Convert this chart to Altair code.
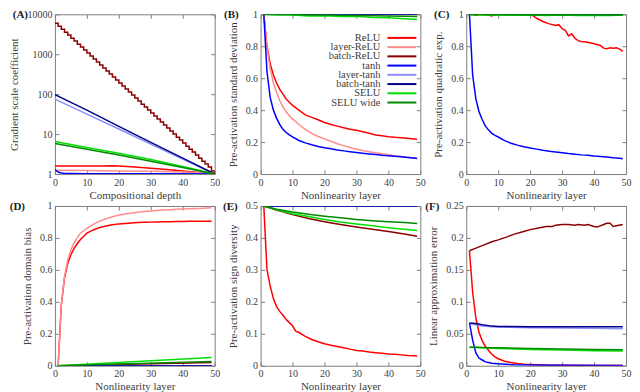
import altair as alt
import pandas as pd

FONT = "Liberation Serif, Times New Roman, Times, DejaVu Serif, serif"
TXT = "#404040"
FRAME = "#808080"

NAMES = ["ReLU", "layer-ReLU", "batch-ReLU", "tanh", "layer-tanh", "batch-tanh", "SELU", "SELU wide"]
COLORS = ["#ff0000", "#ff8c8c", "#8b0000", "#0000ff", "#8c8cff", "#00008b", "#00e000", "#008a00"]
X_TICKS = [0, 10, 20, 30, 40, 50]

# ---------------- Panel A (log y) ----------------
A_X_STEP = list(range(51))
A_batch_relu = [6000, 5050, 4250, 3570, 3010, 2530, 2130, 1790, 1510, 1270,
                1070, 900, 755, 635, 535, 450, 380, 320, 268, 226,
                190, 160, 135, 113, 95, 80, 67, 56, 47.5, 40,
                33.6, 28.3, 23.8, 20, 16.8, 14.2, 11.9, 10, 8.4, 7.1,
                6.0, 5.0, 4.2, 3.55, 3.0, 2.5, 2.1, 1.78, 1.5, 1.19, 1.0]
A_X6 = [0, 10, 20, 30, 40, 50]
A_batch_tanh = [97, 40, 15.6, 6.2, 2.5, 1]
A_layer_tanh = [75, 31.6, 13.4, 5.6, 2.37, 1]
A_selu = [6.5, 4.6, 3.3, 2.3, 1.55, 1]
A_selu_wide = [5.8, 4.2, 3.0, 2.1, 1.45, 1]
A_X_RELU = [0, 5, 10, 15, 18, 20, 25, 30, 35, 40, 45, 50]
A_relu = [1.58, 1.58, 1.58, 1.6, 1.62, 1.6, 1.5, 1.4, 1.3, 1.2, 1.1, 1.0]
A_X_LRELU = [0, 10, 20, 30, 35, 40, 45, 50]
A_layer_relu = [1.25, 1.23, 1.2, 1.17, 1.15, 1.12, 1.07, 1.0]
A_X_TANH = [0, 1, 2, 3, 5, 10, 20, 30, 40, 50]
A_tanh = [1.3, 1.12, 1.06, 1.04, 1.03, 1.02, 1.02, 1.02, 1.01, 1.0]

# common layer grid for B-F
XL = [1, 2, 3, 4, 5, 6, 7, 8, 9, 10, 12, 14, 16, 18, 20, 22, 24, 26, 28, 30,
      32, 34, 36, 38, 40, 42, 44, 46, 48, 49]
X2 = [1, 49]
X11 = [1, 5, 10, 15, 20, 25, 30, 35, 40, 45, 49]

# ---------------- Panel B ----------------
B_relu = [1.0, 0.80, 0.69, 0.62, 0.57, 0.53, 0.50, 0.47, 0.45, 0.43, 0.40, 0.37, 0.355, 0.34, 0.323,
          0.31, 0.30, 0.29, 0.28, 0.274, 0.265, 0.255, 0.245, 0.24, 0.234, 0.23, 0.227, 0.224, 0.22, 0.218]
B_layer_relu = [1.0, 0.79, 0.66, 0.57, 0.51, 0.46, 0.42, 0.39, 0.365, 0.345, 0.31, 0.28, 0.255, 0.235, 0.22,
                0.205, 0.19, 0.178, 0.166, 0.155, 0.147, 0.14, 0.133, 0.127, 0.121, 0.115, 0.11, 0.105, 0.1, 0.098]
B_tanh = [1.0, 0.64, 0.48, 0.40, 0.35, 0.31, 0.28, 0.26, 0.245, 0.232, 0.21, 0.195, 0.183, 0.173, 0.165,
          0.158, 0.151, 0.145, 0.14, 0.135, 0.13, 0.126, 0.122, 0.118, 0.115, 0.111, 0.108, 0.104, 0.1, 0.097]
B_ones = [1.0, 1.0]
B_selu = [1.0, 0.997, 0.996, 0.99, 0.991, 0.986, 0.987, 0.98, 0.979, 0.972, 0.968]
B_selu_wide = [1.0, 0.999, 0.998, 0.996, 0.995, 0.994, 0.993, 0.991, 0.99, 0.988, 0.986]

# ---------------- Panel C ----------------
C_tanh = [1.0, 0.62, 0.47, 0.39, 0.34, 0.30, 0.275, 0.255, 0.242, 0.232, 0.209, 0.193, 0.181, 0.171, 0.163,
          0.156, 0.149, 0.143, 0.138, 0.133, 0.128, 0.124, 0.12, 0.117, 0.113, 0.11, 0.106, 0.102, 0.099, 0.096]
C_X_RELU = [1, 2, 3, 4, 6, 8, 9, 12, 16, 20, 21, 22, 24, 26, 28, 29, 30, 31, 32, 33,
            34, 35, 36, 38, 40, 42, 43, 44, 45, 46, 47, 48, 49]
C_relu = [1.0, 1.0, 0.993, 1.0, 1.0, 0.99, 1.0, 1.0, 1.0, 1.0, 0.99, 0.975, 0.955, 0.94, 0.93, 0.935, 0.91,
          0.90, 0.865, 0.878, 0.85, 0.835, 0.83, 0.825, 0.815, 0.805, 0.788, 0.785, 0.79, 0.788, 0.79, 0.782, 0.768]
C_ones = [1.0, 1.0]
C_selu = [0.998, 0.995, 0.997, 0.994, 0.996, 0.993, 0.995, 0.992, 0.994, 0.993, 0.995]
C_selu_wide = [0.999, 0.998, 0.997, 0.998, 0.996, 0.997, 0.996, 0.997, 0.996, 0.995, 0.996]

# ---------------- Panel D ----------------
D_layer_relu = [0.0, 0.38, 0.56, 0.66, 0.725, 0.77, 0.80, 0.83, 0.845, 0.86, 0.885, 0.905, 0.92, 0.933, 0.943,
                0.95, 0.956, 0.961, 0.965, 0.969, 0.972, 0.975, 0.977, 0.979, 0.981, 0.983, 0.985, 0.986, 0.988, 0.989]
D_relu = [0.0, 0.38, 0.55, 0.64, 0.695, 0.735, 0.765, 0.79, 0.81, 0.83, 0.85, 0.865, 0.875, 0.882, 0.888,
          0.891, 0.894, 0.896, 0.898, 0.899, 0.9, 0.901, 0.902, 0.903, 0.903, 0.904, 0.904, 0.905, 0.905, 0.905]
D_batch_relu = [0.0, 0.02]
D_zeros = [0.0, 0.0]
D_selu = [0.0, 0.052]
D_selu_wide = [0.0, 0.027]

# ---------------- Panel E ----------------
E_halves = [0.5, 0.5]
E_batch_relu = [0.5, 0.487, 0.473, 0.461, 0.451, 0.442, 0.434, 0.427, 0.42, 0.412, 0.405]
E_selu = [0.5, 0.488, 0.476, 0.467, 0.458, 0.45, 0.444, 0.438, 0.432, 0.427, 0.423]
E_selu_wide = [0.5, 0.49, 0.481, 0.474, 0.468, 0.463, 0.458, 0.454, 0.451, 0.448, 0.445]
E_X_RELU = [1, 2, 3, 4, 5, 6, 7, 8, 9, 10, 11, 12, 14, 16, 18, 20, 22, 24, 26, 28, 30,
            32, 34, 36, 38, 40, 42, 44, 46, 48, 49]
E_relu = [0.5, 0.30, 0.25, 0.21, 0.185, 0.17, 0.158, 0.145, 0.135, 0.125, 0.108, 0.104, 0.092, 0.082, 0.075,
          0.069, 0.064, 0.06, 0.056, 0.052, 0.048, 0.046, 0.043, 0.041, 0.039, 0.037, 0.036, 0.034, 0.032, 0.031, 0.03]

# ---------------- Panel F ----------------
F_X_BR = [1, 3, 5, 8, 10, 13, 15, 18, 20, 23, 25, 27, 28, 30, 32, 34, 35, 37, 38, 40, 41, 43, 44, 45, 46, 47, 49]
F_batch_relu = [0.18, 0.184, 0.188, 0.194, 0.197, 0.202, 0.206, 0.21, 0.213, 0.216, 0.218, 0.218, 0.22, 0.221,
                0.221, 0.22, 0.221, 0.22, 0.221, 0.218, 0.217, 0.221, 0.223, 0.223, 0.218, 0.219, 0.221]
F_X_R = [1, 2, 3, 4, 5, 6, 7, 8, 9, 10, 12, 14, 16, 18, 20, 25, 30, 40, 49]
F_relu = [0.18, 0.115, 0.075, 0.052, 0.039, 0.03, 0.024, 0.018, 0.014, 0.011, 0.007, 0.005, 0.0035, 0.0025,
          0.002, 0.001, 0.0006, 0.0003, 0.0002]
F_X_T = [1, 2, 3, 4, 5, 6, 7, 8, 10, 15, 20, 30, 49]
F_tanh = [0.067, 0.04, 0.02, 0.012, 0.009, 0.006, 0.005, 0.004, 0.003, 0.0015, 0.001, 0.0006, 0.0003]
F_X_S = [1, 3, 5, 8, 10, 20, 30, 40, 49]
F_layer_tanh = [0.066, 0.064, 0.062, 0.061, 0.0605, 0.0595, 0.059, 0.0585, 0.058]
F_batch_tanh = [0.067, 0.066, 0.064, 0.062, 0.0615, 0.061, 0.061, 0.061, 0.061]
F_selu = [0.029, 0.0285, 0.028, 0.0275, 0.027, 0.0255, 0.0245, 0.0235, 0.023]
F_selu_wide = [0.029, 0.029, 0.0285, 0.028, 0.028, 0.027, 0.026, 0.0255, 0.025]

W, H = 160, 160
COLOR_SCALE = alt.Scale(domain=NAMES, range=COLORS)


def frame(series):
    rows = []
    for name, xs, ys in series:
        k = NAMES.index(name)
        for x, y in zip(xs, ys):
            rows.append({"x": x, "y": y, "s": name, "k": k})
    return pd.DataFrame(rows).sort_values(["k", "x"]).reset_index(drop=True)


def panel(series, xtitle, ytitle, ydomain, yvals, yfmt, label, label_x,
          ylog=False, step=None, legend=False):
    df = frame(series)
    xs = alt.Scale(domain=[0, 50], nice=False, zero=False)
    if ylog:
        ys = alt.Scale(type="log", domain=ydomain, nice=False)
    else:
        ys = alt.Scale(domain=ydomain, nice=False, zero=False)
    common = dict(offset=-4, tickSize=4, domain=False, grid=False, labelFlush=False)
    lines = alt.Chart(df).mark_line(strokeWidth=1.5, clip=True).encode(
        x=alt.X("x:Q", scale=xs, axis=alt.Axis(values=X_TICKS, title=xtitle, orient="bottom",
                                               labelPadding=3, titlePadding=2, **common)),
        y=alt.Y("y:Q", scale=ys, axis=alt.Axis(values=yvals, format=yfmt, title=ytitle, orient="left",
                                               labelPadding=3, titlePadding=7, **common)),
        color=alt.Color("s:N", scale=COLOR_SCALE, legend=None),
    )
    mirror = alt.Chart(df).mark_line(opacity=0).encode(
        x=alt.X("x:Q", scale=xs, axis=alt.Axis(values=X_TICKS, title=None, orient="top", labels=False, **common)),
        y=alt.Y("y:Q", scale=ys, axis=alt.Axis(values=yvals, title=None, orient="right", labels=False, **common)),
    )
    layers = []
    if step is not None:
        sdf = frame(step)
        layers.append(alt.Chart(sdf).mark_line(strokeWidth=1.5, interpolate="step-after", clip=True).encode(
            x=alt.X("x:Q", scale=xs, axis=None),
            y=alt.Y("y:Q", scale=ys, axis=None),
            color=alt.Color("s:N", scale=COLOR_SCALE, legend=None),
        ))
    lab = alt.Chart(pd.DataFrame({"t": [label]})).mark_text(
        font=FONT, fontSize=11, fontWeight="bold", align="right", baseline="middle", color="#202020"
    ).encode(text="t:N", x=alt.value(label_x), y=alt.value(1))
    core = alt.layer(lines, *layers, mirror, lab).properties(width=W, height=H)
    if legend:
        ldf = pd.DataFrame({"s": NAMES})
        lscale = alt.Scale(domain=NAMES, range=[19, 93], padding=0)
        ltext = alt.Chart(ldf).mark_text(font=FONT, fontSize=10.5, align="right", baseline="middle",
                                         color=TXT).encode(
            text="s:N", x=alt.value(120), y=alt.Y("s:N", scale=lscale, axis=None))
        lrule = alt.Chart(ldf).mark_rule(strokeWidth=2).encode(
            x=alt.value(127), x2=alt.value(156), y=alt.Y("s:N", scale=lscale, axis=None),
            color=alt.Color("s:N", scale=COLOR_SCALE, legend=None))
        core = alt.layer(core, alt.layer(ltext, lrule)).resolve_scale(y="independent").properties(width=W, height=H)
    return core


pA = panel([("ReLU", A_X_RELU, A_relu), ("layer-ReLU", A_X_LRELU, A_layer_relu),
            ("tanh", A_X_TANH, A_tanh), ("layer-tanh", A_X6, A_layer_tanh),
            ("batch-tanh", A_X6, A_batch_tanh), ("SELU", A_X6, A_selu), ("SELU wide", A_X6, A_selu_wide)],
           "Compositional depth", "Gradient scale coefficient", [1, 10000], [1, 10, 100, 1000, 10000], "d",
           "(A)", -27, ylog=True, step=[("batch-ReLU", A_X_STEP, A_batch_relu)])

pB = panel([("ReLU", XL, B_relu), ("layer-ReLU", XL, B_layer_relu), ("batch-ReLU", X2, B_ones),
            ("tanh", XL, B_tanh), ("layer-tanh", X2, B_ones), ("batch-tanh", X2, B_ones),
            ("SELU", X11, B_selu), ("SELU wide", X11, B_selu_wide)],
           "Nonlinearity layer", "Pre-activation standard deviation", [0, 1], [0, 0.2, 0.4, 0.6, 0.8, 1],
           ".1~f", "(B)", -22, legend=True)

pC = panel([("ReLU", C_X_RELU, C_relu), ("layer-ReLU", X2, C_ones), ("batch-ReLU", X2, C_ones),
            ("tanh", XL, C_tanh), ("layer-tanh", X2, C_ones), ("batch-tanh", X2, C_ones),
            ("SELU", X11, C_selu), ("SELU wide", X11, C_selu_wide)],
           "Nonlinearity layer", "Pre-activation quadratic exp.", [0, 1], [0, 0.2, 0.4, 0.6, 0.8, 1],
           ".1~f", "(C)", -17)

pD = panel([("ReLU", XL, D_relu), ("layer-ReLU", XL, D_layer_relu), ("batch-ReLU", X2, D_batch_relu),
            ("tanh", X2, D_zeros), ("layer-tanh", X2, D_zeros), ("batch-tanh", X2, D_zeros),
            ("SELU", X2, D_selu), ("SELU wide", X2, D_selu_wide)],
           "Nonlinearity layer", "Pre-activation domain bias", [0, 1], [0, 0.2, 0.4, 0.6, 0.8, 1],
           ".1~f", "(D)", -30)

pE = panel([("ReLU", E_X_RELU, E_relu), ("layer-ReLU", X2, E_halves), ("batch-ReLU", X11, E_batch_relu),
            ("tanh", X2, E_halves), ("layer-tanh", X2, E_halves), ("batch-tanh", X2, E_halves),
            ("SELU", X11, E_selu), ("SELU wide", X11, E_selu_wide)],
           "Nonlinearity layer", "Pre-activation sign diversity", [0, 0.5], [0, 0.1, 0.2, 0.3, 0.4, 0.5],
           ".1~f", "(E)", -23)

pF = panel([("ReLU", F_X_R, F_relu), ("batch-ReLU", F_X_BR, F_batch_relu),
            ("tanh", F_X_T, F_tanh), ("layer-tanh", F_X_S, F_layer_tanh), ("batch-tanh", F_X_S, F_batch_tanh),
            ("SELU", F_X_S, F_selu), ("SELU wide", F_X_S, F_selu_wide)],
           "Nonlinearity layer", "Linear approximation error", [0, 0.25], [0, 0.05, 0.1, 0.15, 0.2, 0.25],
           ".2~f", "(F)", -27)

chart = alt.concat(pA, pB, pC, pD, pE, pF, columns=3, spacing={"row": 32, "column": 46},
                   bounds="flush", padding=0).configure(font=FONT).configure_axis(
    labelFont=FONT, titleFont=FONT, labelFontSize=10, titleFontSize=11,
    labelColor=TXT, titleColor=TXT, titleFontWeight="normal", tickColor=FRAME, tickWidth=1,
).configure_view(stroke=FRAME, strokeWidth=1)

chart.save("out.html", embed_options={"renderer": "svg", "actions": False})
